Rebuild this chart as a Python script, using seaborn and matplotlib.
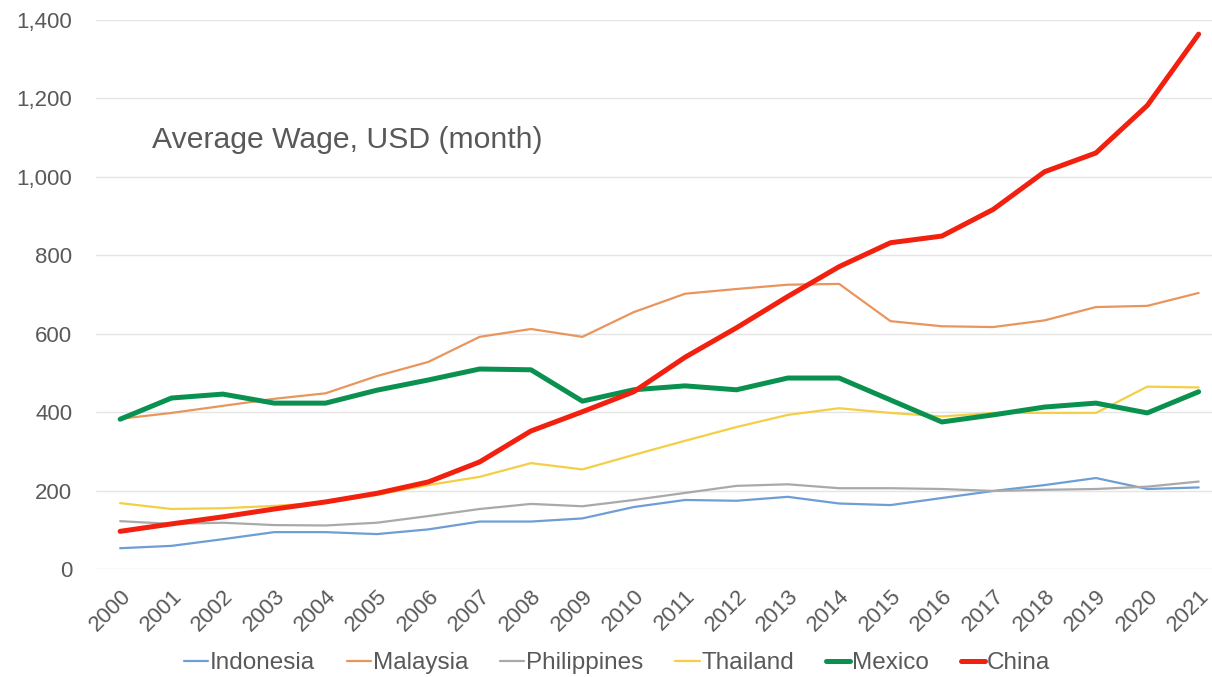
import matplotlib
matplotlib.use("Agg")
import matplotlib.pyplot as plt
import matplotlib.ticker as mticker
import seaborn as sns
import pandas as pd

years = list(range(2000, 2022))
indonesia = [53, 59, 76, 94, 94, 89, 101, 121, 121, 129, 158, 176, 174, 184, 167, 163, 181, 199, 214, 232, 204, 208]
malaysia = [383, 398, 416, 434, 448, 492, 528, 592, 612, 592, 655, 702, 714, 725, 727, 632, 619, 617, 634, 668, 671, 704]
philippines = [122, 115, 118, 112, 111, 118, 135, 153, 166, 160, 176, 194, 212, 216, 206, 206, 204, 199, 202, 204, 210, 223]
thailand = [168, 153, 155, 161, 169, 189, 214, 235, 270, 254, 291, 327, 362, 393, 410, 398, 389, 398, 398, 398, 465, 463]
mexico = [382, 436, 446, 423, 423, 456, 482, 510, 508, 428, 457, 467, 457, 487, 487, 431, 375, 393, 413, 423, 398, 452]
china = [96, 115, 133, 153, 171, 193, 222, 273, 352, 401, 452, 540, 615, 695, 771, 832, 849, 917, 1013, 1061, 1182, 1364]

countries = ["Indonesia", "Malaysia", "Philippines", "Thailand", "Mexico", "China"]
series = [indonesia, malaysia, philippines, thailand, mexico, china]
colors = ["#6E9ED3", "#E8955E", "#A9A9A9", "#F3CF45", "#0A9150", "#F2200F"]
widths = [1.6, 1.6, 1.6, 1.6, 3.6, 3.6]

sns.set_theme(style="white")
plt.rcParams["font.family"] = ["Liberation Sans", "DejaVu Sans"]

fig = plt.figure(figsize=(12.12, 6.77), dpi=100)
ax = fig.add_axes([96 / 1212, 1 - 569 / 677, 1 - 96 / 1212, (569 - 20) / 677])

for name, vals, col, lw in zip(countries, series, colors, widths):
    df = pd.DataFrame({"pos": range(len(years)), "wage": vals})
    sns.lineplot(data=df, x="pos", y="wage", color=col, linewidth=lw,
                 label=name, ax=ax, solid_capstyle="round", solid_joinstyle="round")

ax.set_xlim(-0.47, len(years) - 1 + 0.26)
ax.set_ylim(0, 1400)
ax.yaxis.set_major_locator(mticker.MultipleLocator(200))
ax.yaxis.set_major_formatter(mticker.FuncFormatter(lambda v, p: f"{int(v):,}"))
ax.set_xticks(range(len(years)))
ax.set_xticklabels([str(y) for y in years], rotation=45, ha="right",
                   rotation_mode="anchor")
ax.tick_params(axis="both", colors="#595959", length=0)
ax.tick_params(axis="y", labelsize=16, pad=17)
ax.tick_params(axis="x", labelsize=16, pad=12)
ax.set_xlabel("")
ax.set_ylabel("")
ax.grid(axis="y", color="#E5E5E5", linewidth=1.0)
ax.grid(axis="x", visible=False)
for s in ax.spines.values():
    s.set_visible(False)

fig.text(152 / 1212, 1 - 148 / 677, "Average Wage, USD (month)",
         fontsize=21.7, color="#595959", va="baseline", ha="left")

handles, labels = ax.get_legend_handles_labels()
fig.legend(handles, labels, loc="center", bbox_to_anchor=(617 / 1212, 1 - 663 / 677),
           ncol=6, frameon=False, fontsize=17.5, handlelength=1.0,
           handletextpad=0.08, columnspacing=1.3, labelcolor="#595959")
ax.get_legend().remove()

fig.savefig("out.png", dpi=100)
